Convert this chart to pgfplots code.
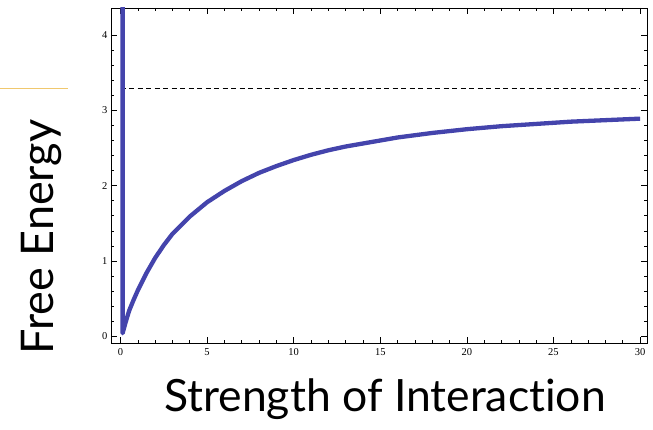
\documentclass[border=0pt]{standalone}
\usepackage{fontspec}
\setmainfont{Liberation Serif}
\newfontfamily\labelfont[Ligatures={NoCommon}]{Lato}
\usepackage{pgfplots}
\pgfplotsset{compat=1.18}
\definecolor{curve}{RGB}{68,68,172}
\definecolor{gold}{RGB}{240,200,110}
\begin{document}
\begin{tikzpicture}
\begin{axis}[
  scale only axis, width=536pt, height=335pt,
  at={(0,0)}, anchor=south west,
  xmin=-0.55, xmax=30.4, ymin=-0.09, ymax=4.36,
  xtick={0,5,...,30}, ytick={0,1,2,3,4},
  minor x tick num=4, minor y tick num=4,
  tick align=inside,
  major tick length=6pt, minor tick length=3pt,
  every tick/.style={black, line width=0.6pt},
  axis line style={line width=0.8pt},
  /pgf/number format/assume math mode=true,
  tick label style={font=\fontsize{10.5}{12}\selectfont},
  xticklabel style={yshift=-2pt},
  clip=true,
]
\addplot[black, line width=0.7pt, dash pattern=on 5pt off 3.5pt] coordinates {(0,3.29) (30,3.29)};
\addplot[curve, line width=4.3pt, line join=round] coordinates {
(0.12,4.6) (0.12,0.04) (0.3,0.19) (0.5,0.34) (0.75,0.48) (1,0.61) (1.5,0.84) (2,1.04) (2.5,1.21) (3,1.36) (4,1.59) (5,1.78) (6,1.93) (7,2.06) (8,2.17) (9,2.26) (10,2.34) (11,2.41) (12,2.47) (13,2.52) (14,2.56) (16,2.64) (18,2.70) (20,2.75) (22,2.79) (24,2.82) (26,2.85) (28,2.87) (30,2.89)};
\end{axis}
\draw[gold, line width=0.9pt] (-111pt,255pt) -- (-43pt,255pt);
\node[rotate=90, anchor=base, inner sep=0pt, font=\labelfont\fontsize{45}{50}\selectfont] at (-58pt,106pt) {Free Energy};
\node[anchor=base, inner sep=0pt, font=\labelfont\fontsize{44.5}{50}\selectfont] at (274pt,-69pt) {Strength of Interaction};
\pgfresetboundingbox
\path (-111pt,-87pt) rectangle (542pt,343pt);
\end{tikzpicture}
\end{document}
